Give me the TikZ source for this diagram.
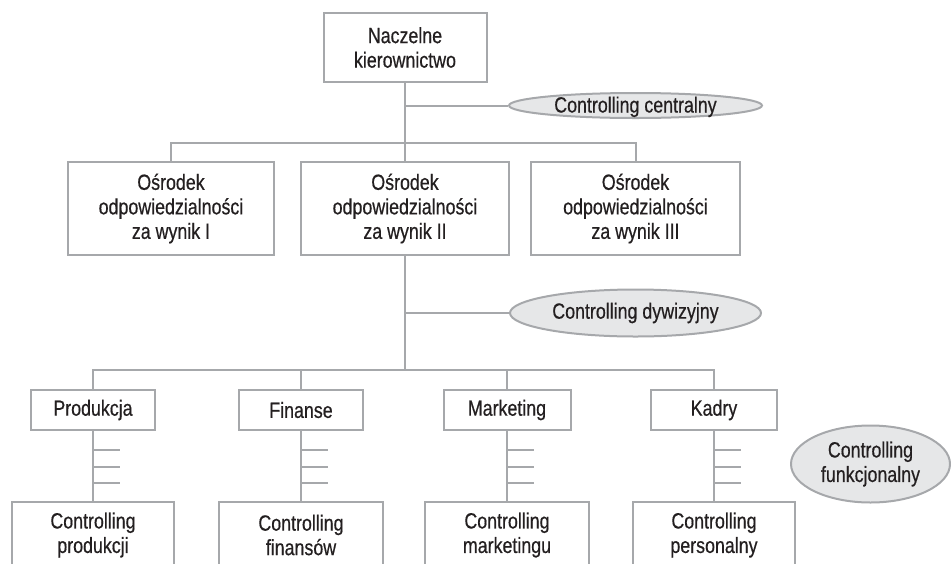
\documentclass[tikz,border=0pt]{standalone}
\usepackage{fontspec}
\setmainfont{Liberation Sans}[FakeStretch=0.81,FakeBold=0.5]
\usetikzlibrary{shapes.geometric,calc}
\definecolor{lg}{HTML}{A6A8AB}
\definecolor{ef}{HTML}{E6E7E8}
\definecolor{tx}{HTML}{231F20}
\begin{document}
\begin{tikzpicture}[x=1pt,y=-1pt,
  every node/.style={font=\fontsize{22}{24.5}\selectfont, text=tx},
  orgbox/.style={draw=lg, line width=2pt, fill=white, align=center, inner sep=0pt},
  ctrl/.style={ellipse, draw=lg, line width=2pt, fill=ef, align=center, inner sep=0pt},
  conn/.style={draw=lg, line width=2pt}]
\clip (0,0) rectangle (951,563);
% top
\node[orgbox, minimum width=163pt, minimum height=69pt] (top) at (405,47.5) {Naczelne\\kierownictwo};
\node[ctrl, minimum width=253pt, minimum height=25pt, text height=14pt, text depth=0pt] (c1) at (635.5,105.5) {Controlling centralny};
% row 2
\node[orgbox, minimum width=206pt, minimum height=93pt] (o1) at (171,208.5) {Ośrodek\\odpowiedzialności\\za wynik I};
\node[orgbox, minimum width=208pt, minimum height=93pt] (o2) at (405,208.5) {Ośrodek\\odpowiedzialności\\za wynik II};
\node[orgbox, minimum width=209pt, minimum height=93pt] (o3) at (635.5,208.5) {Ośrodek\\odpowiedzialności\\za wynik III};
\node[ctrl, minimum width=251pt, minimum height=47pt] (c2) at (635.5,313) {Controlling dywizyjny};
% row 3
\node[orgbox, minimum width=124pt, minimum height=40pt] (p) at (93,410) {Produkcja};
\node[orgbox, minimum width=124pt, minimum height=40pt] (f) at (301,410) {Finanse};
\node[orgbox, minimum width=127pt, minimum height=40pt] (m) at (507,410) {Marketing};
\node[orgbox, minimum width=126pt, minimum height=40pt] (k) at (714,410) {Kadry};
% row 4
\node[orgbox, minimum width=162pt, minimum height=66pt] (cp) at (93,535) {Controlling\\produkcji};
\node[orgbox, minimum width=164pt, minimum height=66pt] (cf) at (301,535) {Controlling\\finansów};
\node[orgbox, minimum width=164pt, minimum height=66pt] (cm) at (507,535) {Controlling\\marketingu};
\node[orgbox, minimum width=162pt, minimum height=66pt] (ck) at (714,535) {Controlling\\personalny};
\node[ctrl, minimum width=159pt, minimum height=77pt] (c3) at (870.5,464) {Controlling\\funkcjonalny};
% connectors
\coordinate (hb1) at (405,143);
\coordinate (hb2) at (405,370);
\draw[conn] (top.south) -- (hb1);
\draw[conn] (top.south |- c1.west) -- (c1.west);
\draw[conn] (o1.north) |- (hb1) -| (o3.north);
\draw[conn] (hb1) -- (o2.north);
\draw[conn] (o2.south) -- (hb2);
\draw[conn] (o2.south |- c2.west) -- (c2.west);
\draw[conn] (p.north) |- (hb2) -| (k.north);
\draw[conn] (f.north) -- (f.north |- hb2);
\draw[conn] (m.north) -- (m.north |- hb2);
\foreach \a/\b in {p/cp, f/cf, m/cm, k/ck}{
  \draw[conn] (\a.south) -- (\b.north);
  \foreach \d in {19,36,52}{
    \draw[conn] ($(\a.south)+(0,\d)$) -- ++(27,0);
  }
}
\end{tikzpicture}
\end{document}
